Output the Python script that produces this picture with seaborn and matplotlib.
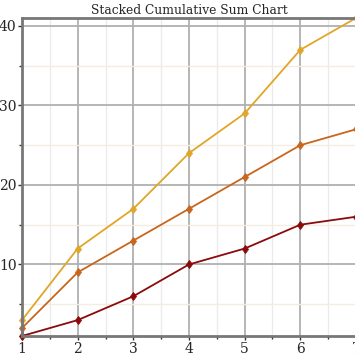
import matplotlib
matplotlib.use("Agg")
import matplotlib.pyplot as plt
import seaborn as sns
import pandas as pd
from matplotlib.ticker import MultipleLocator

x_vals = [1, 2, 3, 4, 5, 6, 7]
series_a = [1, 3, 6, 10, 12, 15, 16]
series_b = [2, 9, 13, 17, 21, 25, 27]
series_c = [3, 12, 17, 24, 29, 37, 41]
series_names = ["A", "B", "C"]
colors = ["#8b0a0a", "#c8661c", "#e0a628"]
title = "Stacked Cumulative Sum Chart"

df = pd.DataFrame({
    "x": x_vals * 3,
    "y": series_a + series_b + series_c,
    "s": [series_names[0]] * 7 + [series_names[1]] * 7 + [series_names[2]] * 7,
})

sns.set_style("white")
plt.rcParams["font.family"] = ["DejaVu Serif"]

fig = plt.figure(figsize=(3.55, 3.55), dpi=100)
ax = fig.add_axes([22/355, 19/355, 334/355, 318/355])

sns.lineplot(data=df, x="x", y="y", hue="s", palette=colors, marker="d",
             markersize=4.5, linewidth=1.3, legend=False, ax=ax)

ax.set_xlim(1, 7)
ax.set_ylim(1, 41)
ax.xaxis.set_major_locator(MultipleLocator(1))
ax.xaxis.set_minor_locator(MultipleLocator(0.5))
ax.yaxis.set_major_locator(MultipleLocator(10))
ax.yaxis.set_minor_locator(MultipleLocator(5))
ax.grid(which="major", color="#b0b0b0", linewidth=1.3)
ax.grid(which="minor", axis="x", color="#ebebeb", linewidth=1.0)
ax.grid(which="minor", axis="y", color="#f4ede2", linewidth=1.0)
ax.set_axisbelow(True)
ax.set_xlabel("")
ax.set_ylabel("")
ax.set_title(title, fontsize=8.8, pad=3)
ax.tick_params(which="major", length=3, width=1, color="#333333", labelsize=10, pad=1)
ax.tick_params(which="minor", length=2, width=1, color="#333333")
ax.tick_params(axis="x", bottom=True, which="both")
ax.tick_params(axis="y", left=True, which="both")
for side in ["left", "bottom", "top"]:
    ax.spines[side].set_color("#777777")
    ax.spines[side].set_linewidth(2)
ax.spines["right"].set_visible(False)
for line in ax.lines:
    line.set_clip_on(False)
    line.set_markeredgecolor(line.get_color())
    line.set_markerfacecolor(line.get_color())
    line.set_markeredgewidth(0.6)

fig.savefig("out.png", dpi=100)
